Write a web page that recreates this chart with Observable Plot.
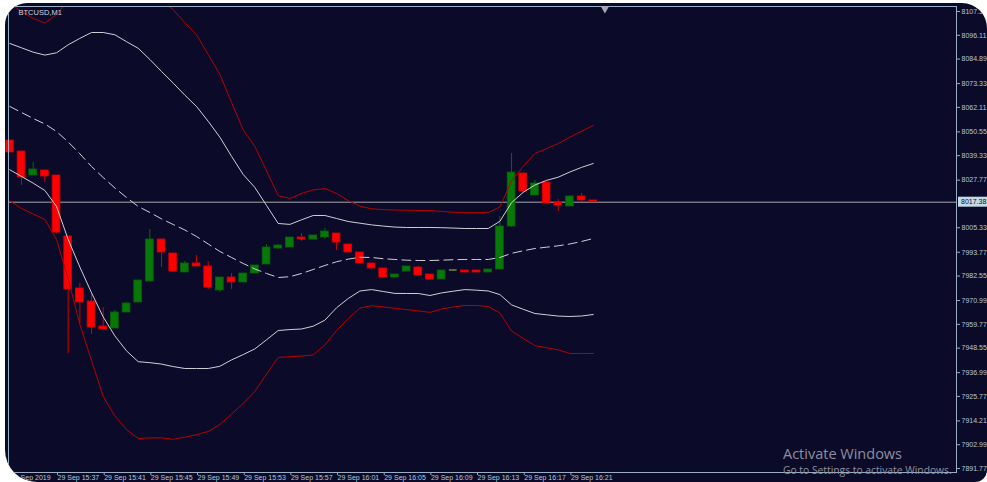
<!DOCTYPE html>
<html><head><meta charset="utf-8">
<script src="https://cdn.jsdelivr.net/npm/d3@7"></script>
<script src="https://cdn.jsdelivr.net/npm/@observablehq/plot@0.6"></script>
<style>
html,body{margin:0;padding:0;background:#ffffff;width:987px;height:482px;overflow:hidden;}
#wrap{position:absolute;left:0;top:0;width:987px;height:482px;background:#0b0b29;clip-path:inset(3px 0 0 5px round 22px 25px 12px 32px);overflow:hidden;}
#chart{position:absolute;left:0;top:0;}
.wm1{position:absolute;left:783px;top:444px;font:14.5px "Open Sans",sans-serif;color:#8e8e9e;white-space:nowrap;}
.wm2{position:absolute;left:783px;top:463px;font:10.3px "Open Sans",sans-serif;color:#8e8e9e;white-space:nowrap;}
</style></head><body>
<div id="wrap"><div id="chart"></div><div class="wm1">Activate Windows</div><div class="wm2">Go to Settings to activate Windows.</div></div>
<script>
const symbol = "BTCUSD,M1";
const times = ["15:33","15:34","15:35","15:36","15:37","15:38","15:39","15:40","15:41","15:42","15:43","15:44","15:45","15:46","15:47","15:48","15:49","15:50","15:51","15:52","15:53","15:54","15:55","15:56","15:57","15:58","15:59","16:00","16:01","16:02","16:03","16:04","16:05","16:06","16:07","16:08","16:09","16:10","16:11","16:12","16:13","16:14","16:15","16:16","16:17","16:18","16:19","16:20","16:21","16:22","16:23"];
const open = [8046.49,8041.30,8029.98,8032.34,8029.98,8001.20,7976.68,7970.54,7958.75,7957.81,7965.35,7970.07,7979.98,7999.79,7993.19,7984.22,7988.47,7987.05,7975.73,7981.86,7979.51,7983.75,7988.00,7995.54,7996.02,8000.73,7999.79,8000.73,8002.62,7997.43,7993.66,7988.47,7986.11,7981.86,7984.69,7986.58,7983.28,7980.92,7985.40,7985.17,7985.17,7984.22,7985.64,8005.92,8030.92,8020.54,8026.68,8017.24,8015.35,8020.07,8018.19];
const high = [8046.49,8041.30,8036.11,8032.34,8029.98,8001.20,7979.03,7973.85,7967.71,7966.30,7970.07,7980.45,8004.51,7999.79,7993.19,7989.41,7992.24,7989.41,7981.86,7983.75,7983.75,7987.52,7997.43,7997.43,8000.73,8002.62,8001.68,8004.98,8002.62,7997.43,7993.66,7988.47,7986.11,7983.28,7987.05,7987.05,7983.28,7985.17,7985.40,7985.17,7985.17,7985.64,8010.64,8040.35,8030.92,8027.62,8026.68,8018.66,8020.54,8021.49,8018.19];
const low = [8040.83,8025.26,8029.98,8026.68,8002.62,7946.02,7960.17,7954.98,7957.34,7957.81,7965.35,7970.07,7979.98,7986.58,7984.69,7984.22,7987.05,7976.20,7974.79,7976.20,7979.51,7983.75,7988.00,7995.07,7996.02,7998.85,7999.79,7999.79,7994.60,7993.66,7988.47,7985.64,7981.39,7981.86,7984.69,7982.81,7980.92,7980.92,7985.40,7984.22,7984.22,7984.22,7985.64,8005.45,8021.49,8020.54,8016.77,8013.00,8015.35,8017.24,8017.38];
const close = [8040.83,8029.03,8032.81,8029.51,8003.09,7976.20,7970.07,7958.28,7957.34,7965.35,7969.60,7980.45,7999.79,7993.66,7984.69,7988.47,7987.05,7977.15,7981.86,7979.51,7983.75,7987.52,7996.02,7996.96,8000.73,7999.79,8001.68,8003.56,7998.37,7993.66,7988.47,7986.11,7981.86,7983.28,7987.05,7982.81,7980.92,7985.17,7985.40,7984.22,7984.22,7985.64,8005.92,8031.39,8022.43,8026.20,8016.77,8015.83,8020.07,8018.19,8017.38];
const upperRed = [8111.11,8107.34,8104.04,8101.87,8105.92,8112.53,8120.73,8125.73,8132.34,8131.58,8129.13,8124.79,8118.85,8112.81,8108.19,8102.01,8096.30,8087.10,8077.62,8064.41,8051.49,8043.66,8032.19,8020.45,8019.18,8021.49,8023.19,8023.80,8021.49,8018.09,8015.54,8014.27,8013.89,8013.70,8013.56,8013.47,8013.47,8013.04,8012.62,8012.53,8012.53,8012.53,8015.12,8027.48,8034.32,8040.40,8042.62,8045.07,8048.09,8050.87,8053.56];
const upperWhite = [8092.24,8090.21,8088.14,8086.77,8087.86,8091.63,8094.65,8097.43,8097.43,8096.35,8093.09,8089.98,8084.70,8079.03,8073.56,8067.86,8062.53,8055.54,8048.04,8039.03,8030.45,8024.32,8015.83,8007.34,8006.91,8009.08,8011.11,8011.11,8009.70,8008.28,8007.48,8006.68,8006.11,8005.64,8005.45,8005.45,8005.45,8005.36,8005.17,8004.98,8004.98,8004.98,8008.37,8017.19,8022.05,8025.50,8027.67,8029.18,8031.63,8033.80,8035.64];
const middle = [8062.53,8059.70,8056.87,8054.27,8050.73,8045.78,8040.21,8034.22,8029.03,8024.08,8019.60,8015.36,8012.53,8009.51,8006.86,8004.27,8001.20,7997.67,7994.13,7991.30,7988.47,7985.87,7983.75,7981.86,7982.24,7983.75,7985.64,7987.53,7989.27,7990.54,7991.39,7991.30,7990.73,7990.36,7990.02,7989.88,7989.88,7990.02,7990.26,7990.36,7990.36,7990.36,7991.30,7993.28,7994.46,7995.54,7996.16,7996.82,7997.67,7998.85,8000.26];
const lowerWhite = [8032.67,8029.51,8026.35,8022.90,8015.36,7999.79,7986.77,7974.65,7963.28,7954.32,7947.24,7942.15,7941.68,7941.02,7939.84,7938.94,7938.94,7938.94,7939.98,7943.00,7945.50,7948.19,7952.48,7956.86,7957.29,7957.57,7958.89,7961.72,7967.57,7971.96,7975.50,7976.16,7975.26,7974.36,7974.32,7974.32,7973.37,7974.60,7975.40,7976.16,7975.87,7975.50,7973.80,7968.94,7966.86,7964.88,7964.27,7963.66,7963.47,7963.70,7964.41];
const lowerRed = [8018.00,8014.41,8011.82,8009.22,7999.79,7981.16,7959.69,7942.71,7925.73,7916.58,7910.07,7905.92,7906.20,7906.20,7905.54,7906.53,7907.71,7909.22,7912.52,7917.43,7922.48,7928.09,7936.35,7944.13,7944.51,7944.79,7945.35,7949.98,7956.86,7962.48,7967.43,7968.56,7968.00,7967.29,7966.72,7966.11,7965.40,7966.96,7967.95,7968.66,7968.66,7968.19,7965.17,7956.58,7953.09,7949.74,7948.75,7947.71,7946.02,7946.02,7946.02];
const lastPrice = 8017.38;
const yTicks = [8107.33,8096.11,8084.89,8073.33,8062.11,8050.55,8039.33,8027.77,8005.33,7993.77,7982.55,7970.99,7959.77,7948.55,7936.99,7925.77,7914.21,7902.99,7891.77];
const xTickTimes = ["15:33","15:37","15:41","15:45","15:49","15:53","15:57","16:01","16:05","16:09","16:13","16:17","16:21"];
const xTickLabels = ["29 Sep 2019","29 Sep 15:37","29 Sep 15:41","29 Sep 15:45","29 Sep 15:49","29 Sep 15:53","29 Sep 15:57","29 Sep 16:01","29 Sep 16:05","29 Sep 16:09","29 Sep 16:13","29 Sep 16:17","29 Sep 16:21"];
const shiftMarkTime = "16:24";

const toDate = (s, sec = 0) => new Date(Date.UTC(2019, 8, 29, +s.slice(0, 2), +s.slice(3, 5), sec));
const rows = times.map((t, i) => ({
  t: toDate(t), open: open[i], high: high[i], low: low[i], close: close[i],
  upperRed: upperRed[i], upperWhite: upperWhite[i], middle: middle[i], lowerWhite: lowerWhite[i], lowerRed: lowerRed[i]
}));
const bodies = rows.filter(d => d.open !== d.close);
const dojis = rows.filter(d => d.open === d.close);
const labelMap = new Map(xTickTimes.map((s, i) => [+toDate(s), xTickLabels[i]]));
const half = 20000;
const isUp = d => d.close > d.open;

const chart = Plot.plot({
  width: 987, height: 482,
  marginLeft: 8, marginRight: 31, marginTop: 6, marginBottom: 10,
  style: {background: "transparent", color: "#b4c8dc", fontFamily: "'Liberation Sans', Arial, sans-serif", overflow: "visible"},
  x: {type: "utc", domain: [toDate("15:32", 53), toDate("16:54", 8)]},
  y: {domain: [7889.88, 8109.69]},
  marks: [
    Plot.ruleY([lastPrice], {stroke: "#a9a9ad", strokeWidth: 1}),
    Plot.ruleX(rows, {x: "t", y1: "low", y2: "high", stroke: d => isUp(d) ? "#0a6a0a" : "#d00000", strokeWidth: 1}),
    Plot.rect(bodies, {x1: d => new Date(+d.t - half), x2: d => new Date(+d.t + half), y1: "open", y2: "close",
      fill: d => isUp(d) ? "#087808" : "#ff0000", stroke: d => isUp(d) ? "#056205" : "#d40000", strokeWidth: 0.8}),
    Plot.ruleY(dojis, {y: "close", x1: d => new Date(+d.t - half), x2: d => new Date(+d.t + half), stroke: "#a0a030", strokeWidth: 1.2}),
    Plot.line(rows, {x: "t", y: "upperRed", stroke: "#b80000", strokeWidth: 1, clip: true}),
    Plot.line(rows, {x: "t", y: "lowerRed", stroke: "#b80000", strokeWidth: 1, clip: true}),
    Plot.line(rows, {x: "t", y: "upperWhite", stroke: "#cfcfd8", strokeWidth: 1, clip: true}),
    Plot.line(rows, {x: "t", y: "lowerWhite", stroke: "#cfcfd8", strokeWidth: 1, clip: true}),
    Plot.line(rows, {x: "t", y: "middle", stroke: "#cfcfd8", strokeWidth: 1, strokeDasharray: "9,5", clip: true}),
    Plot.frame({stroke: "#98aec2", strokeWidth: 1}),
    Plot.axisX(xTickTimes.map(s => toDate(s)), {anchor: "bottom", tickSize: 3, tickPadding: 0, stroke: "#98aec2",
      tickFormat: d => labelMap.get(+d), textAnchor: "start", dx: 1, fontSize: 7, label: null}),
    Plot.axisY(yTicks, {anchor: "right", tickSize: 3, tickPadding: 2, stroke: "#98aec2",
      tickFormat: d => d.toFixed(2), textAnchor: "start", fontSize: 7, label: null}),
    Plot.text([symbol], {frameAnchor: "top-left", text: d => d, dx: 10, dy: 3, lineAnchor: "top", textAnchor: "start", fontSize: 7.5, fill: "#c8d2e2"}),
    Plot.dot([toDate(shiftMarkTime)], {x: d => d, frameAnchor: "top", symbol: "triangle", rotate: 180, r: 3.2, dy: 2, fill: "#a8a8b4", stroke: "none"})
  ]
});
document.getElementById("chart").appendChild(chart);

// last-price label box on the right axis, positioned through the chart's own y scale
const yScale = chart.scale("y");
const py = yScale.apply(lastPrice);
const svg = d3.select(chart);
const g = svg.append("g").attr("font-family", "'Liberation Sans', Arial, sans-serif").attr("font-size", 7).attr("text-anchor", "start");
g.append("rect").attr("x", 958).attr("y", py - 5).attr("width", 32).attr("height", 10).attr("fill", "#c4d8e6");
g.append("text").attr("x", 961).attr("y", py).attr("dy", "0.35em").attr("text-anchor", "start").attr("fill", "#0b0b29").text(lastPrice.toFixed(2));
</script>
</body></html>
